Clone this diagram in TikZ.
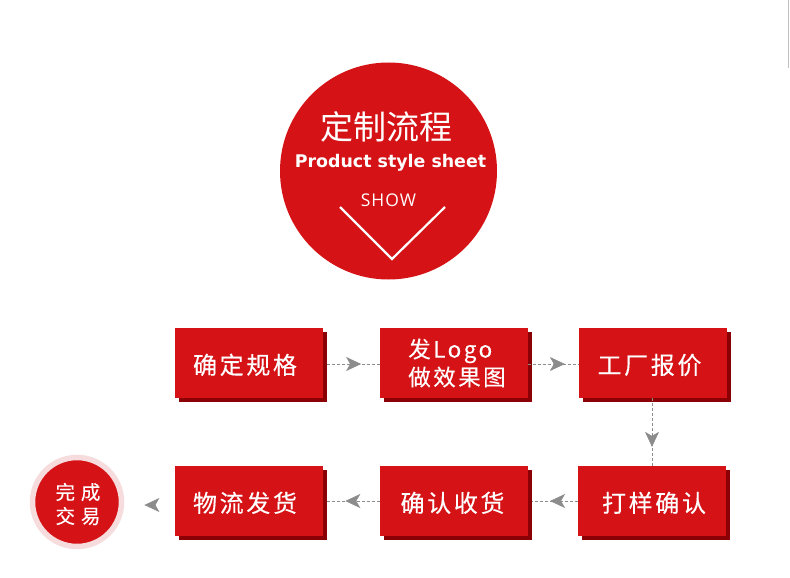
\documentclass[tikz,border=0pt]{standalone}
\usepackage{fontspec}
\setmainfont{Noto Sans CJK SC}
\newfontfamily\cjkbox[LetterSpace=11, FakeBold=0.25]{Noto Sans CJK SC}
\newfontfamily\cjkpetit[LetterSpace=30, FakeBold=0.25]{Noto Sans CJK SC}
\newfontfamily\latinbold{DejaVu Sans Bold}
\newfontfamily\latinfin[LetterSpace=6]{Open Sans}
\usetikzlibrary{arrows.meta, decorations.markings, shadows}
\definecolor{rouge}{HTML}{D51317}
\definecolor{sombre}{HTML}{8A0004}
\definecolor{rose}{HTML}{F6DCDD}
\definecolor{gris}{HTML}{8C8C8C}

\begin{document}
\begin{tikzpicture}[x=1pt, y=-1pt]
\tikzset{tiboite/.style={fill=rouge, text=white, minimum width=148pt, minimum height=70pt, inner sep=0pt,
    general shadow={fill=sombre, shadow xshift=4pt, shadow yshift=-4pt}, font=\fontsize{24}{28}\selectfont\cjkbox}}
\tikzset{tiligne/.style={text height=23pt, text depth=1pt}}
\tikzset{tifleche/.style={gris, dashed, line width=0.7pt, dash pattern=on 3pt off 2pt, postaction={decorate},
    decoration={markings, mark=at position #1 with {\arrow[solid]{Stealth[length=15pt, width=14pt, inset=4pt]}}}}}
\fill[white] (0, 0) rectangle (790, 578);
\useasboundingbox (0, 0) rectangle (790, 578);
\draw[black!25, line width=1pt] (788.5, 0) -- (788.5, 68);
\node[circle, fill=rouge, minimum size=217pt, inner sep=0pt] (T0) at (388.5, 171) {};
\node[text=white, inner sep=0pt] (T1) at (386, 127) {\fontsize{33}{36}\selectfont 定制流程};
\node[text=white, inner sep=0pt] (T2) at (390.5, 162.5) {\fontsize{17.4}{20}\selectfont\latinbold Product style sheet};
\node[text=white, inner sep=0pt] (T3) at (388.5, 200) {\fontsize{17.5}{20}\selectfont\latinfin SHOW};
\draw[white, line width=2.2pt] (340, 207) -- (392, 259) -- (445, 207);
\node[tiboite, tiligne] (B1) at (249, 363) {确定规格\kern8pt};
\node[tiboite, align=left, font=\fontsize{22.5}{28}\selectfont\cjkbox] (B2) at (454, 363) {\kern6pt 发Logo\\\kern6pt 做效果图};
\node[tiboite, tiligne] (B3) at (653, 363) {工厂报价\kern7pt};
\node[tiboite, tiligne] (B4) at (652, 501) {\kern4pt 打样确认};
\node[tiboite, tiligne] (B5) at (454, 501) {确认收货\kern3pt};
\node[tiboite, tiligne] (B6) at (249, 501) {物流发货\kern8pt};
\node[circle, fill=rouge, draw=rose, line width=5.5pt, minimum size=89pt, inner sep=0pt] (C1) at (77, 502) {};
\node[text=white, align=center, inner sep=0pt, font=\fontsize{19.5}{24}\selectfont\cjkpetit] (C2) at (78, 504) {完成\\交易};
\coordinate (P1) at (175, 505);
\coordinate (P2) at (124, 505);
\draw[tifleche=0.67, shorten <=4pt] ([yshift=-1pt]B1.east) -- ([yshift=-1pt]B2.west);
\draw[tifleche=0.725] ([yshift=-1pt]B2.east) -- ([yshift=-1pt]B3.west);
\draw[tifleche=0.72] (B3.south -| B4.north) -- (B4.north);
\draw[tifleche=0.56, shorten >=4pt] (B4) -- (B5);
\draw[tifleche=0.61, shorten >=4pt] (B5) -- (B6);
\path[tifleche=0.6] (P1) -- (P2);
\end{tikzpicture}
\end{document}
